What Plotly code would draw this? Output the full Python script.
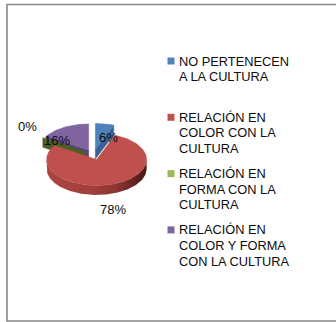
import math
import textwrap
import plotly.graph_objects as go

# ---- data -------------------------------------------------------------
categories = [
    "NO PERTENECEN A LA CULTURA",
    "RELACIÓN EN COLOR CON LA CULTURA",
    "RELACIÓN EN FORMA CON LA CULTURA",
    "RELACIÓN EN COLOR Y FORMA CON LA CULTURA",
]
percent = [6, 78, 0, 16]

# ---- style ------------------------------------------------------------
top_colors = ["#4F81BD", "#C0504D", "#9BBB59", "#8064A2"]
wall_colors = ["#3a6194", "#8a2f2c", "#4a5f20", "#5b4578"]
W, H = 336, 322
CX, CY = 93.5, 154.5      # pie centre (pixels)
RX, RY = 50.0, 26.0       # ellipse radii of the tilted disc
DEPTH = 9.5               # thickness of the disc
EXPLODE = 0.2             # radial pull-out of every slice
FONT = "Liberation Sans, Arial, sans-serif"
# label placement: radius factor and angular turn from the slice middle
LABEL_R = [0.72, 2.15, 1.70, 0.90]
LABEL_TURN = [13.8, 7.3, 6.6, -24.4]
# rim shading of the front slice, left (light) to right (dark)
RIM_SCALE = [[0.0, "#ad4642"], [0.45, "#a13f3b"], [0.7, "#8a3532"],
             [0.88, "#63231f"], [1.0, "#461816"]]

fig = go.Figure()


def pt(theta, ox, oy, r=1.0, dz=0.0):
    t = math.radians(theta)
    return ox + r * RX * math.sin(t), oy - r * RY * math.cos(t) + dz


def poly(xs, ys, color, gradient=None):
    kw = dict(fillcolor=color)
    if gradient is not None:
        kw = dict(fillgradient=dict(type="horizontal", colorscale=gradient))
    fig.add_trace(go.Scatter(
        x=xs + [xs[0]], y=ys + [ys[0]], mode="lines", fill="toself",
        line=dict(color=color, width=0.5 if gradient is None else 0),
        hoverinfo="skip", showlegend=False, **kw))


total = sum(percent)
slices = []
start = 0.0
for i, v in enumerate(percent):
    sweep = 360.0 * v / total
    mid = start + sweep / 2
    ox, oy = pt(mid, CX, CY, EXPLODE)
    slices.append(dict(i=i, a0=start, a1=start + sweep, mid=mid, ox=ox, oy=oy))
    start += sweep


def radial_wall(s, ang, color):
    x0, y0 = s["ox"], s["oy"]
    x1, y1 = pt(ang, x0, y0)
    poly([x0, x1, x1, x0], [y0, y1, y1 + DEPTH, y0 + DEPTH], color)


def outer_side(s):
    lo, hi = max(s["a0"], 90.0), min(s["a1"], 270.0)
    if hi <= lo:
        return
    n = max(8, int(hi - lo))
    angs = [lo + (hi - lo) * j / n for j in range(n + 1)]
    xs = [pt(a, s["ox"], s["oy"])[0] for a in angs]
    ys = [pt(a, s["ox"], s["oy"])[1] for a in angs]
    poly(xs + xs[::-1], ys + [y + DEPTH for y in ys[::-1]],
         wall_colors[s["i"]], gradient=RIM_SCALE)


def top_face(s):
    if s["a1"] - s["a0"] <= 0:
        return
    n = max(4, int((s["a1"] - s["a0"]) / 2))
    angs = [s["a0"] + (s["a1"] - s["a0"]) * j / n for j in range(n + 1)]
    xs = [s["ox"]] + [pt(a, s["ox"], s["oy"])[0] for a in angs]
    ys = [s["oy"]] + [pt(a, s["ox"], s["oy"])[1] for a in angs]
    poly(xs, ys, top_colors[s["i"]])


blue, red, green, purple = slices

# back pieces first, the big front slice last
radial_wall(blue, blue["a1"], wall_colors[0])
top_face(blue)
radial_wall(purple, purple["a0"], wall_colors[3])
top_face(purple)
radial_wall(green, green["a0"], wall_colors[2])
outer_side(red)
top_face(red)

# percentage labels
for s in slices:
    ang = s["mid"] + LABEL_TURN[s["i"]]
    lx, ly = pt(ang, CX, CY, LABEL_R[s["i"]])
    fig.add_annotation(x=lx, y=ly, text=f"{percent[s['i']]}%", showarrow=False,
                       xanchor="center", yanchor="middle",
                       font=dict(family=FONT, size=13, color="#0d0d0d"))

# legend: colour squares and wrapped category names
LEG_X, LEG_Y0, LEG_PITCH, LINE_H, SQ = 167.5, 61.0, 56.3, 15.6, 7.0
for i, name in enumerate(categories):
    y_first = LEG_Y0 + i * LEG_PITCH
    fig.add_shape(type="rect", xref="x", yref="y",
                  x0=LEG_X, x1=LEG_X + SQ, y0=y_first - SQ / 2, y1=y_first + SQ / 2,
                  fillcolor=top_colors[i], line=dict(width=0))
    for j, line in enumerate(textwrap.wrap(name, 14)):
        fig.add_annotation(x=LEG_X + SQ + 2.5, y=y_first + j * LINE_H, text=line,
                           showarrow=False, xanchor="left", yanchor="middle",
                           font=dict(family=FONT, size=12.8, color="#0d0d0d"))

# chart frame
fig.add_shape(type="rect", xref="x", yref="y", x0=7, x1=W + 5, y0=4.5, y1=321,
              line=dict(color="#878787", width=1.6), fillcolor="rgba(0,0,0,0)")

fig.update_layout(
    width=W, height=H, autosize=False,
    margin=dict(l=0, r=0, t=0, b=0),
    paper_bgcolor="white", plot_bgcolor="white",
    xaxis=dict(range=[0, W], visible=False, fixedrange=True),
    yaxis=dict(range=[H, 0], visible=False, fixedrange=True),
    showlegend=False,
)

fig.write_html("out.html")
